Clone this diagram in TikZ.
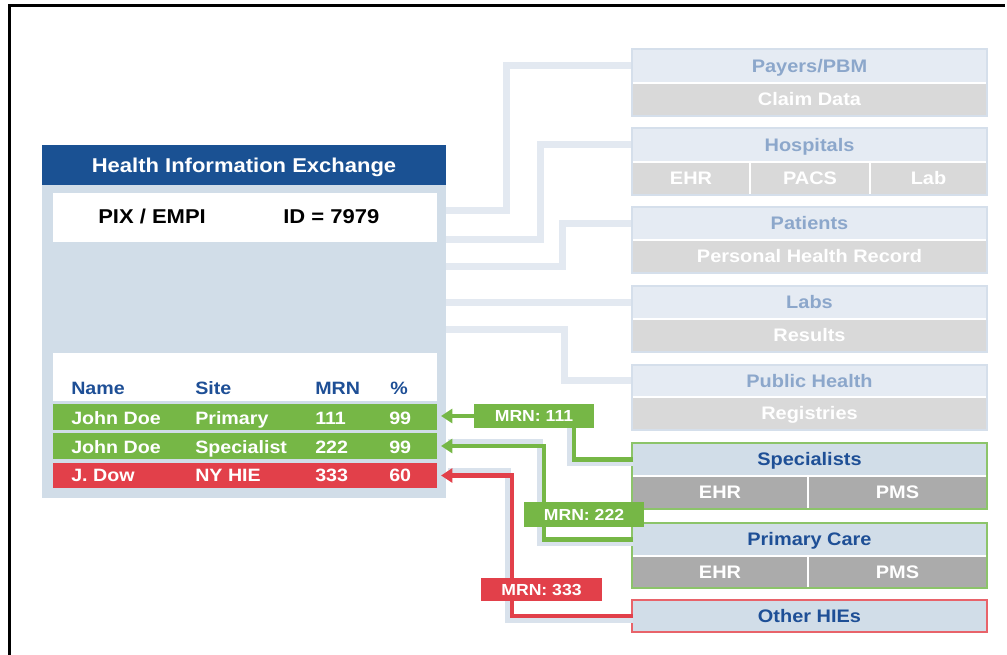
\documentclass[tikz,border=0pt]{standalone}
\usepackage{fontspec}
\setmainfont{Liberation Sans}[FakeStretch=1.1]
\usetikzlibrary{arrows.meta}

\definecolor{hieblue}{HTML}{1A5193}
\definecolor{panel}{HTML}{D1DDE8}
\definecolor{headblue}{HTML}{1E4F96}
\definecolor{okgreen}{HTML}{76B746}
\definecolor{badred}{HTML}{E2404A}
\definecolor{fadeline}{HTML}{E3E9F1}
\definecolor{fadehead}{HTML}{E5EBF3}
\definecolor{fadeedge}{HTML}{D5DFEB}
\definecolor{fadetext}{HTML}{8CA7CB}
\definecolor{fadegray}{HTML}{D9D9D9}
\definecolor{activegray}{HTML}{ABABAB}
\definecolor{greenedge}{HTML}{8CC46A}
\definecolor{rededge}{HTML}{E8636A}
\definecolor{halo}{HTML}{D9E2EC}

\newcommand\hiefont{\fontsize{15}{18}\selectfont\bfseries}
\newcommand\tabfont{\fontsize{13.4}{16}\selectfont\bfseries}
\newcommand\rbfont{\fontsize{13.6}{16}\selectfont\bfseries}
\newcommand\mrnfont{\fontsize{12}{14}\selectfont\bfseries}

\pgfdeclarelayer{background}
\pgfsetlayers{background,main}

% rectangle node given by its corners in pixel units
\newcommand\pxbox[7]{%
  \node[box,#6,minimum width={((#4)-(#2))*0.75pt},minimum height={((#5)-(#3))*0.75pt}]
    (#1) at ({((#2)+(#4))/2},{((#3)+(#5))/2}) {#7};}
% partner box: outline plus title strip
\newcommand\rbox[6]{%
  \pxbox{#1}{632}{#2}{987}{#4}{#5box}{}%
  \pxbox{#1H}{633}{(#2)+1}{986}{#3}{#5head}{#6}}

\tikzset{
  box/.style={rectangle,inner sep=0pt,outer sep=0pt,anchor=center},
  % cap height of the bold face, so that capitals sit centred in their strip
  rbtxt/.style={font=\rbfont,text height=9.74pt,text depth=0pt},
  fadebox/.style={fill=white,draw=fadeedge,line width=1.1pt},
  livebox/.style={fill=white,draw=greenedge,line width=1.1pt},
  redbox/.style={fill=white,draw=rededge,line width=1.1pt},
  fadehead/.style={fill=fadehead,text=fadetext,rbtxt},
  livehead/.style={fill=panel,text=headblue,rbtxt},
  fadecell/.style={fill=fadegray,text=white,rbtxt},
  livecell/.style={fill=activegray,text=white,rbtxt},
  fadeconn/.style={draw=fadeline,line width=5.25pt},
  haloline/.style={draw=halo,line width=4.5pt},
  link/.style={line width=3.4pt,shorten >=3pt,-{Triangle[length=8.5pt,width=10.5pt]}},
  mrn/.style={text=white,font=\mrnfont,text height=8.6pt,text depth=0pt},
  cell/.style={anchor=base west,inner sep=0pt,font=\tabfont},
}

\begin{document}
\begin{tikzpicture}[x=0.75pt,y=-0.75pt]
\useasboundingbox (0,0) rectangle (1007,655);

% frame
\draw[line width=2pt] (9.5,655) -- (9.5,5.3) -- (1005,5.3);

% exchange panel
\pxbox{hie}{42}{145}{446}{498}{fill=panel}{}
\pxbox{hieT}{42}{145}{446}{185}{fill=hieblue,text=white,font=\hiefont,text height=10.74pt,text depth=0pt}{Health Information Exchange}
\pxbox{pix}{53}{193}{437}{242}{fill=white}{}
\node[anchor=base west,inner sep=0pt,font=\hiefont] (pixL) at (98,224) {PIX / EMPI};
\node[anchor=base west,inner sep=0pt,font=\hiefont] (pixR) at (283,224) {ID = 7979};

% patient match table
\pxbox{tbl}{53}{353}{437}{401}{fill=white}{}
\node[cell,text=headblue] (hName) at (71,395) {Name};
\node[cell,text=headblue] (hSite) at (195,395) {Site};
\node[cell,text=headblue] (hMRN) at (315,395) {MRN};
\node[cell,text=headblue] (hPct) at (390,395) {\%};

\pxbox{row1}{53}{404}{437}{430}{fill=okgreen}{}
\pxbox{row2}{53}{433}{437}{459}{fill=okgreen}{}
\pxbox{row3}{53}{463}{437}{488}{fill=badred}{}
\begin{scope}[every node/.style={cell,text=white}]
  \node (r1a) at (71,425) {John Doe};
  \node (r1b) at (195,425) {Primary};
  \node (r1c) at (315,425) {111};
  \node (r1d) at (389,425) {99};
  \node (r2a) at (71,454) {John Doe};
  \node (r2b) at (195,454) {Specialist};
  \node (r2c) at (315,454) {222};
  \node (r2d) at (389,454) {99};
  \node (r3a) at (71,482) {J. Dow};
  \node (r3b) at (195,482) {NY HIE};
  \node (r3c) at (315,482) {333};
  \node (r3d) at (389,482) {60};
\end{scope}

% partner boxes
\rbox{pay}{49}{82}{116}{fade}{Payers/PBM}
\pxbox{pay1}{633}{84}{986}{115}{fadecell}{Claim Data}

\rbox{hosp}{128}{161}{195}{fade}{Hospitals}
\pxbox{hosp1}{633}{163}{749}{194}{fadecell}{EHR}
\pxbox{hosp2}{751}{163}{869}{194}{fadecell}{PACS}
\pxbox{hosp3}{871}{163}{986}{194}{fadecell}{Lab}

\rbox{pat}{207}{239}{273}{fade}{Patients}
\pxbox{pat1}{633}{241}{986}{272}{fadecell}{Personal Health Record}

\rbox{lab}{286}{318}{352}{fade}{Labs}
\pxbox{lab1}{633}{320}{986}{351}{fadecell}{Results}

\rbox{pub}{365}{396}{430}{fade}{Public Health}
\pxbox{pub1}{633}{398}{986}{429}{fadecell}{Registries}

\rbox{spec}{443}{475}{509}{live}{Specialists}
\pxbox{spec1}{633}{477}{807}{508}{livecell}{EHR}
\pxbox{spec2}{809}{477}{986}{508}{livecell}{PMS}

\rbox{prim}{523}{555}{588}{live}{Primary Care}
\pxbox{prim1}{633}{557}{807}{587}{livecell}{EHR}
\pxbox{prim2}{809}{557}{986}{587}{livecell}{PMS}

\pxbox{oth}{632}{600}{987}{632}{redbox}{}
\pxbox{othH}{633}{601}{986}{631}{livehead}{Other HIEs}

% faded connectors to the other sources, kept under the boxes
\begin{pgfonlayer}{background}
  \draw[fadeconn] (hie.east |- 0,211) -- ++(60,0) |- (payH.west);
  \draw[fadeconn] (hie.east |- 0,240) -- ++(94,0) |- (hospH.west);
  \draw[fadeconn] (hie.east |- 0,267) -- ++(116,0) |- (patH.west);
  \draw[fadeconn] (hie.east |- labH.west) -- (labH.west);
  \draw[fadeconn] (hie.east |- 0,330) -- ++(118,0) |- (pubH.west);
\end{pgfonlayer}

% matched record links
\pxbox{m111}{474}{404}{594}{428}{fill=okgreen,mrn}{MRN: 111}
\draw[haloline] ([yshift=-3pt]specH.west) -| ([xshift=27pt]m111.south);
\draw[haloline] ([yshift=-3pt]primH.west) -| ([xshift=77pt,yshift=3pt]row2.east) -- ([xshift=8pt,yshift=3pt]row2.east);
\draw[haloline] ([yshift=-3pt]othH.west) -| ([xshift=53.25pt,yshift=3pt]row3.east) -- ([xshift=8pt,yshift=3pt]row3.east);

\draw[okgreen,line width=3.4pt] (specH.west) -| ([xshift=30pt]m111.south);
\draw[okgreen,link] (m111.west) -- (row1.east |- m111.west);
\draw[okgreen,link] (primH.west) -| ([xshift=80.25pt]row2.east) -- (row2.east);
\draw[badred,link] (othH.west) -| ([xshift=56.25pt]row3.east) -- (row3.east);

\pxbox{m222}{524}{502}{644}{527}{fill=okgreen,mrn}{MRN: 222}
\pxbox{m333}{481}{578}{602}{601}{fill=badred,mrn}{MRN: 333}
\end{tikzpicture}
\end{document}
